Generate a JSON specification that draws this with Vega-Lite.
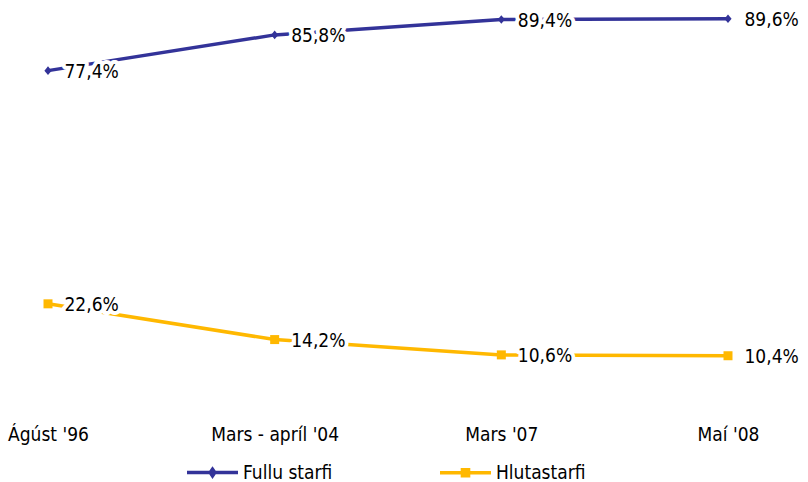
{
  "$schema": "https://vega.github.io/schema/vega-lite/v6.json",
  "width": 680,
  "height": 400,
  "autosize": {"type": "none"},
  "padding": {"left": 48, "top": 0, "right": 80, "bottom": 82},
  "config": {"view": {"stroke": null}, "font": "DejaVu Sans Condensed"},
  "data": {
    "values": [
      {"period": "Ágúst '96", "series": "Fullu starfi", "value": 77.4, "label": "77,4%"},
      {"period": "Mars - apríl '04", "series": "Fullu starfi", "value": 85.8, "label": "85,8%"},
      {"period": "Mars '07", "series": "Fullu starfi", "value": 89.4, "label": "89,4%"},
      {"period": "Maí '08", "series": "Fullu starfi", "value": 89.6, "label": "89,6%"},
      {"period": "Ágúst '96", "series": "Hlutastarfi", "value": 22.6, "label": "22,6%"},
      {"period": "Mars - apríl '04", "series": "Hlutastarfi", "value": 14.2, "label": "14,2%"},
      {"period": "Mars '07", "series": "Hlutastarfi", "value": 10.6, "label": "10,6%"},
      {"period": "Maí '08", "series": "Hlutastarfi", "value": 10.4, "label": "10,4%"}
    ]
  },
  "encoding": {
    "x": {
      "field": "period",
      "type": "ordinal",
      "sort": ["Ágúst '96", "Mars - apríl '04", "Mars '07", "Maí '08"],
      "scale": {"type": "point", "padding": 0},
      "axis": {
        "title": null,
        "domain": false,
        "ticks": false,
        "tickSize": 0,
        "labelAngle": 0,
        "labelFontSize": 19,
        "labelFont": "DejaVu Sans Condensed",
        "labelColor": "#000000",
        "labelBaseline": "alphabetic",
        "labelPadding": 40,
        "grid": false
      }
    },
    "y": {
      "field": "value",
      "type": "quantitative",
      "scale": {"domain": [0, 94], "nice": false, "zero": false},
      "axis": null
    }
  },
  "layer": [
    {
      "mark": {"type": "line", "strokeWidth": 3.5},
      "encoding": {
        "color": {
          "field": "series",
          "type": "nominal",
          "scale": {"domain": ["Fullu starfi", "Hlutastarfi"], "range": ["#333399", "#FFB800"]},
          "legend": {
            "title": null,
            "orient": "none",
            "legendX": 137,
            "legendY": 445,
            "direction": "horizontal",
            "symbolSize": 2601,
            "symbolStrokeWidth": 3.5,
            "labelFontSize": 19,
            "labelFont": "DejaVu Sans Condensed",
            "labelColor": "#000000",
            "labelOffset": 3,
            "columnPadding": 100,
            "padding": 0,
            "encode": {
              "symbols": {
                "update": {
                  "shape": {"signal": "datum.value === 'Fullu starfi' ? 'M-1,0L1,0M0,-0.13L0.09,0L0,0.13L-0.09,0Z' : 'M-1,0L1,0M-0.12,-0.12L0.12,-0.12L0.12,0.12L-0.12,0.12Z'"},
                  "fill": {"signal": "datum.value === 'Fullu starfi' ? '#333399' : '#FFB800'"},
                  "stroke": {"signal": "datum.value === 'Fullu starfi' ? '#333399' : '#FFB800'"},
                  "strokeWidth": {"value": 3.5},
                  "opacity": {"value": 1}
                }
              }
            }
          }
        }
      }
    },
    {
      "mark": {"type": "text", "align": "left", "baseline": "alphabetic", "dx": 16.5, "dy": 7.5, "fontSize": 19, "font": "DejaVu Sans Condensed", "fill": "#ffffff", "stroke": "#ffffff", "strokeWidth": 8, "strokeJoin": "round"},
      "encoding": {"text": {"field": "label"}}
    },
    {
      "mark": {"type": "text", "align": "left", "baseline": "alphabetic", "dx": 16.5, "dy": 7.5, "fontSize": 19, "font": "DejaVu Sans Condensed", "fill": "#000000"},
      "encoding": {"text": {"field": "label"}}
    },
    {
      "mark": {"type": "point", "filled": true, "opacity": 1, "size": 81},
      "encoding": {
        "color": {"field": "series", "type": "nominal", "scale": {"domain": ["Fullu starfi", "Hlutastarfi"], "range": ["#333399", "#FFB800"]}},
        "shape": {
          "condition": {"test": "datum.series === 'Fullu starfi'", "value": "M-0.8,0L0,-0.95L0.8,0L0,0.95Z"},
          "value": "square"
        }
      }
    }
  ]
}
